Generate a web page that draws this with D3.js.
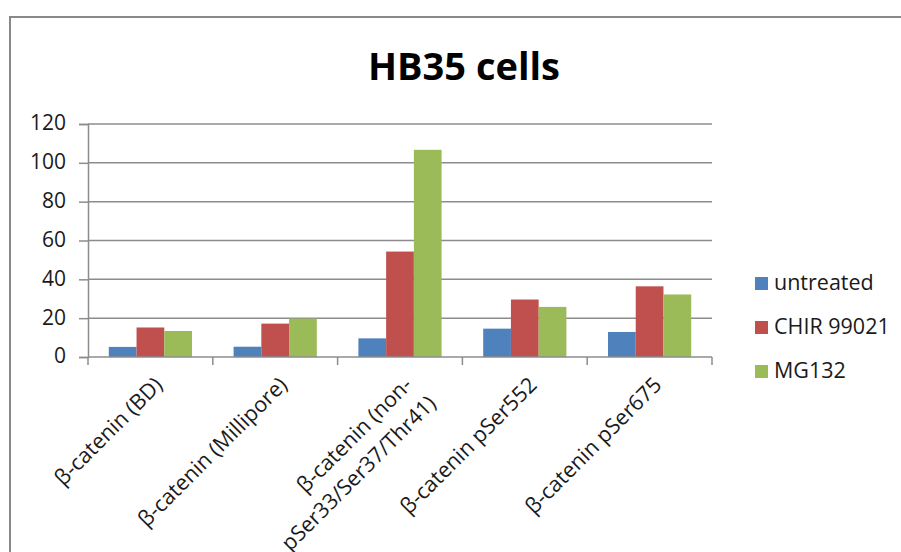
<!DOCTYPE html>
<html>
<head>
<meta charset="utf-8">
<script src="https://cdn.jsdelivr.net/npm/d3@7"></script>
<style>
  html, body { margin: 0; padding: 0; background: #ffffff; }
  svg { display: block; }
  text { font-family: "Open Sans", "Liberation Sans", sans-serif; fill: #1a1a1a; }
</style>
</head>
<body>
<svg id="chart" width="901" height="552"></svg>
<script>
// Chart data
const categories = [
  "β-catenin (BD)",
  "β-catenin (Millipore)",
  "β-catenin (non-pSer33/Ser37/Thr41)",
  "β-catenin pSer552",
  "β-catenin pSer675"
];
// Category labels split into display lines
const categoryLines = [
  ["β-catenin (BD)"],
  ["β-catenin (Millipore)"],
  ["β-catenin (non-", "pSer33/Ser37/Thr41)"],
  ["β-catenin pSer552"],
  ["β-catenin pSer675"]
];
const seriesNames = ["untreated", "CHIR 99021", "MG132"];
const untreated = [5.2, 5.3, 9.6, 14.6, 12.9];
const chir99021 = [15.2, 17.2, 54.3, 29.6, 36.4];
const mg132 = [13.4, 19.8, 106.7, 25.8, 32.2];
const yTicks = [0, 20, 40, 60, 80, 100, 120];
const colors = ["#4F81BD", "#C0504D", "#9BBB59"];

const seriesValues = [untreated, chir99021, mg132];

const svg = d3.select("#chart");

// Chart area frame
svg.append("path")
  .attr("d", "M10,560 L10,17 L910,17")
  .attr("fill", "none")
  .attr("stroke", "#898989")
  .attr("stroke-width", 2);

// Title
svg.append("text")
  .attr("x", 464)
  .attr("y", 80)
  .attr("text-anchor", "middle")
  .style("font-size", "38px")
  .style("font-weight", "bold")
  .style("fill", "#000")
  .text("HB35 cells");

// Scales
const plotLeft = 88, plotRight = 712, plotTop = 124, plotBottom = 357;
const x0 = d3.scaleBand().domain(categories).range([plotLeft, plotRight]).padding(0);
const x1 = d3.scaleBand().domain(seriesNames).range([0, x0.bandwidth()])
  .paddingInner(0).paddingOuter(0.75);
const y = d3.scaleLinear().domain([0, 120]).range([plotBottom, plotTop]);

const gridColor = "#8c8c8c";

// Horizontal gridlines
svg.append("g")
  .selectAll("line")
  .data(yTicks.filter(d => d > 0))
  .join("line")
  .attr("x1", plotLeft)
  .attr("x2", plotRight)
  .attr("y1", d => y(d))
  .attr("y2", d => y(d))
  .attr("stroke", gridColor)
  .attr("stroke-width", 1.5);

// Y axis
const yAxis = svg.append("g")
  .attr("transform", `translate(${plotLeft},0)`)
  .call(d3.axisLeft(y).tickValues(yTicks).tickSize(9).tickPadding(13).tickFormat(d3.format("d")));
yAxis.select(".domain").attr("stroke", gridColor).attr("stroke-width", 1.5);
yAxis.selectAll(".tick line").attr("stroke", gridColor).attr("stroke-width", 1.5);
yAxis.selectAll(".tick text")
  .style("font-size", "21px")
  .style("font-family", "'Open Sans', sans-serif")
  .attr("fill", "#1a1a1a")
  .attr("dy", "0.28em");

// Bars
const groups = svg.append("g")
  .selectAll("g")
  .data(categories)
  .join("g")
  .attr("transform", d => `translate(${x0(d)},0)`);

groups.selectAll("rect")
  .data((d, i) => seriesNames.map((s, j) => ({ s, v: seriesValues[j][i], c: colors[j] })))
  .join("rect")
  .attr("x", d => x1(d.s))
  .attr("width", x1.bandwidth())
  .attr("y", d => y(d.v))
  .attr("height", d => y(0) - y(d.v))
  .attr("fill", d => d.c);

// X axis line and category boundary ticks
svg.append("line")
  .attr("x1", plotLeft).attr("x2", plotRight)
  .attr("y1", y(0)).attr("y2", y(0))
  .attr("stroke", gridColor).attr("stroke-width", 1.5);

const boundaries = categories.map(c => x0(c)).concat([x0(categories[categories.length - 1]) + x0.bandwidth()]);
svg.append("g")
  .selectAll("line")
  .data(boundaries)
  .join("line")
  .attr("x1", d => d).attr("x2", d => d)
  .attr("y1", y(0)).attr("y2", y(0) + 8)
  .attr("stroke", gridColor).attr("stroke-width", 1.5);

// Rotated category labels, line ends aligned at the anchor
svg.append("g")
  .selectAll("text")
  .data(categories)
  .join("text")
  .attr("transform", d => `translate(${x0(d) + x0.bandwidth() / 2 + 8},${y(0) + 24}) rotate(-45)`)
  .attr("text-anchor", "end")
  .style("font-size", "21.5px")
  .each(function (d, i) {
    const t = d3.select(this);
    categoryLines[i].forEach((ln, k) => {
      t.append("tspan")
        .attr("x", k * 4)
        .attr("y", k * 30)
        .attr("dy", "0.35em")
        .text(ln);
    });
  });

// Legend
const legend = svg.append("g")
  .selectAll("g")
  .data(seriesNames)
  .join("g")
  .attr("transform", (d, i) => `translate(755,${290 + i * 44})`);

legend.append("rect")
  .attr("x", 0).attr("y", -13)
  .attr("width", 13).attr("height", 13)
  .attr("fill", (d, i) => colors[i]);

legend.append("text")
  .attr("x", 19).attr("y", 0)
  .style("font-size", "21.5px")
  .text(d => d);
</script>
</body>
</html>
